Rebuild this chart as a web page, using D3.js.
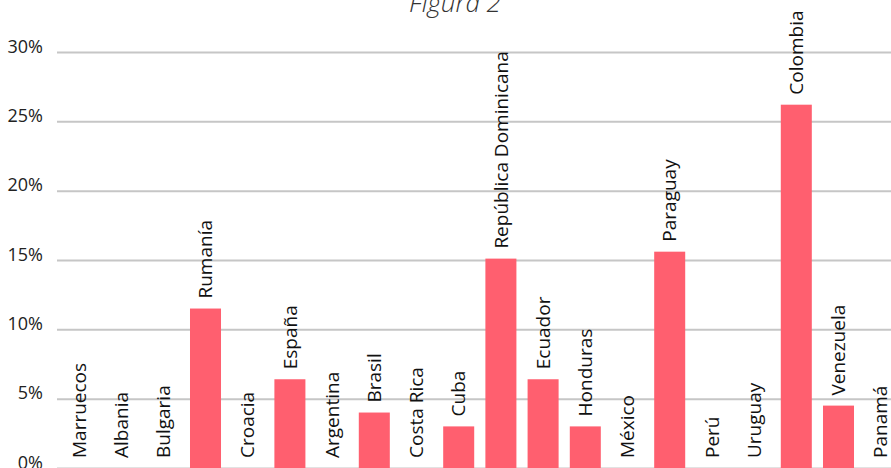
<!DOCTYPE html>
<html>
<head>
<meta charset="utf-8">
<script src="https://cdn.jsdelivr.net/npm/d3@7"></script>
<style>
  html, body { margin: 0; padding: 0; background: #fff; overflow: hidden; }
  svg { display: block; font-family: "Open Sans", sans-serif; }
</style>
</head>
<body>
<svg id="chart" width="891" height="468"></svg>
<script>
// Share of respondents by country of origin (%)
const countries = [
  "Marruecos", "Albania", "Bulgaria", "Rumanía", "Croacia", "España",
  "Argentina", "Brasil", "Costa Rica", "Cuba", "República Dominicana",
  "Ecuador", "Honduras", "México", "Paraguay", "Perú", "Uruguay",
  "Colombia", "Venezuela", "Panamá"
];
const shares = [
  0, 0, 0, 11.5, 0, 6.4,
  0, 4.0, 0, 3.0, 15.1,
  6.4, 3.0, 0, 15.6, 0, 0,
  26.2, 4.5, 0
];
const yTicks = [0, 5, 10, 15, 20, 25, 30];
const title = "Figura 2";

const svg = d3.select("#chart");
const plotLeft = 57.8, plotRight = 901.8, plotBottom = 468, plotTop = 52;

const x = d3.scaleBand()
  .domain(countries)
  .range([plotLeft, plotRight])
  .paddingInner(0.265)
  .paddingOuter(0.1325);

const y = d3.scaleLinear()
  .domain([0, 30])
  .range([plotBottom, plotTop]);

// Gridlines and percentage ticks (labels sit just above their line)
const yAxis = svg.append("g")
  .attr("transform", `translate(${plotLeft - 0.8},0)`)
  .call(d3.axisLeft(y)
    .tickValues(yTicks)
    .tickSize(-(plotRight - plotLeft + 10))
    .tickPadding(14)
    .tickFormat(d => d + "%"));
yAxis.select(".domain").remove();
yAxis.selectAll(".tick line")
  .attr("stroke", "#c6c6c6")
  .attr("stroke-width", 2);
yAxis.selectAll(".tick text")
  .attr("fill", "#222")
  .attr("font-size", 18)
  .attr("dy", "0")
  .attr("font-family", "'Open Sans', sans-serif");

// Bars
svg.append("g")
  .selectAll("rect")
  .data(countries)
  .join("rect")
  .attr("x", d => x(d))
  .attr("width", x.bandwidth())
  .attr("y", (d, i) => y(shares[i]))
  .attr("height", (d, i) => y(0) - y(shares[i]))
  .attr("fill", "#ff5f6f");

// Country names standing on top of each bar
svg.append("g")
  .selectAll("text")
  .data(countries)
  .join("text")
  .attr("transform", (d, i) =>
    `translate(${x(d) + x.bandwidth() / 2},${y(shares[i]) - 10}) rotate(-90)`)
  .attr("text-anchor", "start")
  .attr("dy", "0.35em")
  .attr("font-size", 19)
  .attr("fill", "#111")
  .text(d => d);

// Title
svg.append("text")
  .attr("x", 455)
  .attr("y", 12)
  .attr("text-anchor", "middle")
  .attr("font-size", 26)
  .attr("font-style", "italic")
  .attr("font-weight", 300)
  .attr("fill", "#333")
  .text(title);
</script>
</body>
</html>
